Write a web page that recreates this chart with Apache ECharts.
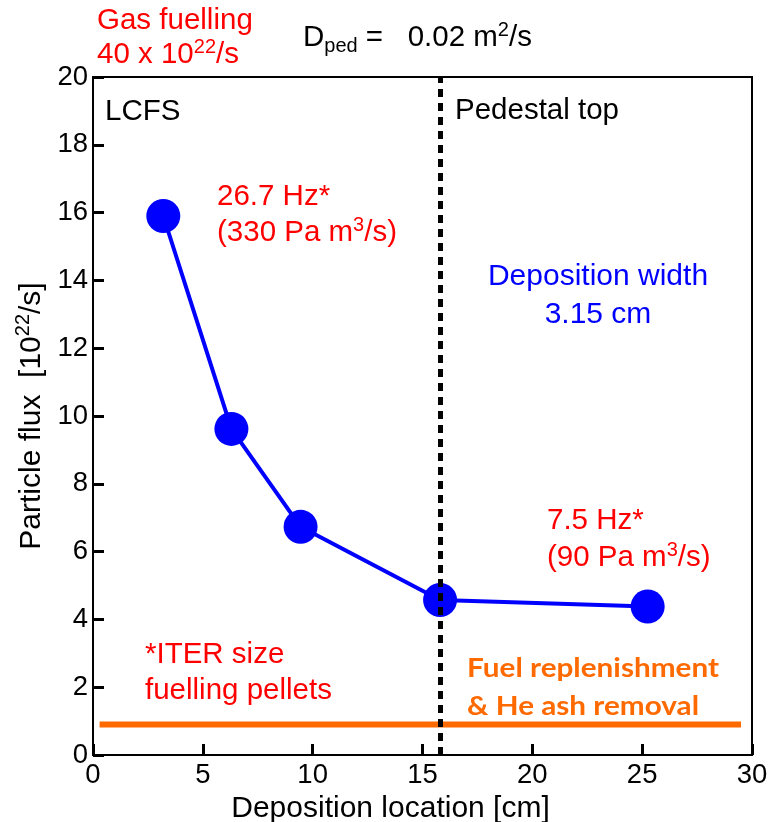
<!DOCTYPE html>
<html>
<head>
<meta charset="utf-8">
<script src="https://cdn.jsdelivr.net/npm/echarts@6/dist/echarts.min.js"></script>
<style>
  html, body { margin: 0; padding: 0; background: #fff; }
  #chart { width: 770px; height: 822px; }
</style>
</head>
<body>
<div id="chart"></div>
<script>
// Deposition location [cm] and particle flux [10^22/s]
const depositionCm = [3.2, 6.3, 9.45, 15.8, 25.25];
const particleFlux = [15.9, 9.62, 6.73, 4.57, 4.38];

// Pedestal top position [cm]
const pedestalTopCm = 15.8;

// Flux needed for fuel replenishment & He ash removal
const replenishX = [0.3, 29.5];
const replenishFlux = [0.9, 0.9];

// Axis ticks
const xTicks = [0, 5, 10, 15, 20, 25, 30];
const yTicks = [0, 2, 4, 6, 8, 10, 12, 14, 16, 18, 20];

const BLUE = '#0000ff';
const RED = '#ff0000';
const ORANGE = '#ff6a00';
const FONT = '"Liberation Sans", Arial, sans-serif';
const FONT2 = 'Lato, "Open Sans", sans-serif';
const TXT = 29.5;

const chart = echarts.init(document.getElementById('chart'));

function makeRich(size, color) {
  const sup = Math.round(size * 0.68);
  return {
    n: { fontSize: size, lineHeight: 36, verticalAlign: 'middle', fontFamily: FONT, color: color, fill: color },
    sup: { fontSize: sup, lineHeight: 12, verticalAlign: 'top', fontFamily: FONT, color: color, fill: color },
    sub: { fontSize: sup, lineHeight: 12, verticalAlign: 'bottom', fontFamily: FONT, color: color, fill: color }
  };
}

function richText(x, y, text, color) {
  return {
    type: 'text',
    x: x,
    y: y,
    z: 100,
    style: {
      text: text,
      fill: color,
      rich: makeRich(TXT, color),
      font: TXT + 'px ' + FONT,
      textAlign: 'left',
      textVerticalAlign: 'middle'
    }
  };
}

function plainText(x, y, text, color, font, align, sx) {
  return {
    type: 'text',
    x: x,
    y: y,
    z: 100,
    scaleX: sx || 1,
    style: {
      text: text,
      fill: color,
      font: font,
      textAlign: align || 'left',
      textVerticalAlign: 'middle'
    }
  };
}

const FT = TXT + 'px ' + FONT;
const LB = 'bold 27px ' + FONT2;

const option = {
  animation: false,
  backgroundColor: '#fff',
  grid: {
    left: 93, right: 18, top: 77, bottom: 67,
    outerBoundsMode: 'none',
    containLabel: false,
    show: true, borderColor: '#000', borderWidth: 2
  },
  xAxis: {
    type: 'value',
    min: xTicks[0],
    max: xTicks[xTicks.length - 1],
    interval: 5,
    name: 'Deposition location [cm]',
    nameLocation: 'middle',
    nameGap: 33,
    nameTextStyle: { fontSize: 30, fontFamily: FONT, color: '#000', padding: [0, 64, 0, 0] },
    axisLine: { onZero: false, lineStyle: { color: '#000', width: 2 } },
    axisTick: { inside: true, length: 11, lineStyle: { color: '#000', width: 3 } },
    axisLabel: { fontSize: 27.5, fontFamily: FONT, color: '#000', margin: 6,
      formatter: v => xTicks.includes(v) ? String(v) : '' },
    splitLine: { show: false }
  },
  yAxis: {
    type: 'value',
    min: yTicks[0],
    max: yTicks[yTicks.length - 1],
    interval: 2,
    name: '{n|Particle flux  [10}{sup|22}{n|/s]}',
    nameLocation: 'middle',
    nameGap: 42,
    nameRotate: 90,
    nameTextStyle: { color: '#000', rich: makeRich(30, '#000') },
    axisLine: { lineStyle: { color: '#000', width: 2 } },
    axisTick: { inside: true, length: 11, lineStyle: { color: '#000', width: 3 } },
    axisLabel: { fontSize: 27.5, fontFamily: FONT, color: '#000', margin: 5,
      formatter: v => yTicks.includes(v) ? String(v) : '' },
    splitLine: { show: false }
  },
  series: [
    {
      type: 'line',
      name: 'replenish',
      data: replenishX.map((x, i) => [x, replenishFlux[i]]),
      symbol: 'none',
      lineStyle: { color: ORANGE, width: 6 },
      z: 2
    },
    {
      type: 'line',
      name: 'flux',
      data: depositionCm.map((x, i) => [x, particleFlux[i]]),
      symbol: 'circle',
      symbolSize: 34,
      itemStyle: { color: BLUE },
      lineStyle: { color: BLUE, width: 4 },
      z: 3
    },
    {
      type: 'line',
      name: 'pedestal',
      data: [],
      z: 5,
      markLine: {
        silent: true,
        symbol: 'none',
        label: { show: false },
        lineStyle: { color: '#000', width: 5, type: [8, 6] },
        data: [{ xAxis: pedestalTopCm }]
      }
    }
  ],
  graphic: [
    plainText(97, 21, 'Gas fuelling', RED, FT),
    richText(97, 55, '{n|40 x 10}{sup|22}{n|/s}', RED),
    richText(303, 38, '{n|D}{sub|ped}{n| =   0.02 m}{sup|2}{n|/s}', '#000'),
    plainText(105, 112, 'LCFS', '#000', FT),
    plainText(455, 111, 'Pedestal top', '#000', FT),
    plainText(217, 197, '26.7 Hz*', RED, FT),
    richText(217, 233, '{n|(330 Pa m}{sup|3}{n|/s)}', RED),
    plainText(598, 277, 'Deposition width', BLUE, '30px ' + FONT, 'center'),
    plainText(598, 315, '3.15 cm', BLUE, '30px ' + FONT, 'center'),
    plainText(547, 521, '7.5 Hz*', RED, FT),
    richText(547, 558, '{n|(90 Pa m}{sup|3}{n|/s)}', RED),
    plainText(145, 655, '*ITER size', RED, FT),
    plainText(145, 691, 'fuelling pellets', RED, FT),
    plainText(467, 668, 'Fuel replenishment', ORANGE, LB, 'left', 1.1),
    plainText(467, 706, '& He ash removal', ORANGE, LB, 'left', 1.1)
  ]
};

chart.setOption(option);
</script>
</body>
</html>
